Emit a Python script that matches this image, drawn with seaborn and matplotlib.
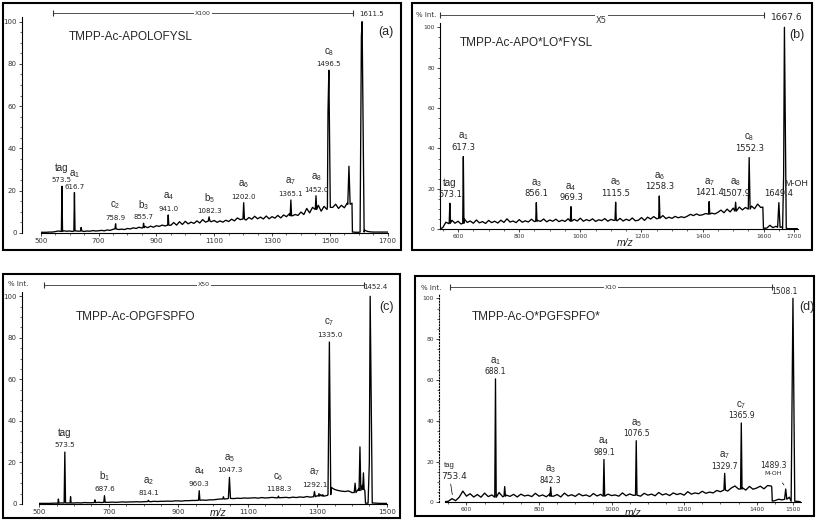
"""Cuatro espectros MS/MS (MALDI) de peptidos derivatizados con TMPP.

Cada panel se dibuja a partir de un ruido de fondo leido a paso fijo, una
lista de picos (posicion, altura, base, semiancho) y unos pocos puntos extra
(hombros y cortes del rango ampliado).
"""

import matplotlib

matplotlib.use("Agg")
import matplotlib.pyplot as plt
import numpy as np
import pandas as pd
import seaborn as sns
from matplotlib.patches import Rectangle
from matplotlib.ticker import MultipleLocator

sns.set_style("ticks")
plt.rcParams["font.family"] = ["DejaVu Sans"]
plt.rcParams["mathtext.fontset"] = "custom"
plt.rcParams["mathtext.rm"] = "Liberation Sans"
plt.rcParams["mathtext.it"] = "Liberation Sans:italic"
plt.rcParams["mathtext.default"] = "rm"

ANCHO_PX, ALTO_PX, DPI = 817, 526, 100
LETRA = "Liberation Sans"

# ---------------------------------------------------------------- panel (a)
INICIO_A = 500
ruido_a = [
    0.2, 0.2, 0.2, 0.3, 0.3, 0.5, 0.8, 0.6, 0.9, 0.7,
    0.8, 0.6, 0.9, 0.7, 1.0, 0.6, 0.8, 0.7, 1.0, 0.8,
    0.9, 1.1, 0.9, 1.3, 1.1, 1.6, 2.2, 1.5, 1.7, 1.5,
    2.0, 1.8, 2.3, 2.0, 2.6, 2.2, 3.0, 2.4, 3.1, 2.6,
    3.3, 3.0, 3.6, 3.2, 4.5, 3.5, 4.8, 3.6, 5.2, 3.9,
    5.4, 4.2, 5.0, 4.4, 5.6, 4.6, 6.2, 5.0, 6.5, 5.2,
    5.8, 4.9, 5.6, 5.0, 5.9, 5.3, 6.4, 5.6, 7.0, 6.2,
    7.5, 6.0, 7.2, 6.4, 7.8, 6.6, 7.4, 6.5, 7.9, 6.6,
    7.6, 6.9, 8.2, 7.0, 8.4, 7.6, 9.0, 8.0, 8.6, 8.2,
    9.8, 8.6, 11.5, 9.4, 12.0, 10.5, 13.0, 10.2, 12.5, 11.0,
    14.5, 12.0, 13.5, 11.5, 13.0, 11.8, 14.0, 15.0, 0.3, 0.2,
    0.2, 1.0, 1.2, 0.6, 0.4, 0.3, 0.3, 0.3, 0.3, 0.3,
    0.3,
]
extra_mz_a = [1493.5, 1576.5, 1578.0, 1609.0]
extra_int_a = [57.0, 14.0, 0.3, 93.0]
pico_mz_a = [573.5, 616.7, 640.0, 758.9, 855.7, 941.0, 1082.3, 1202.0,
             1365.1, 1452.0, 1496.5, 1566.0, 1611.5]
pico_h_a = [22.0, 19.0, 2.5, 4.2, 4.5, 8.4, 7.5, 14.2, 15.5, 17.5, 77.0, 31.5, 100.0]
pico_base_a = [0.6, 0.8, 0.8, 1.8, 2.4, 3.6, 5.5, 6.5, 8.0, 11.0, 12.0, 13.5, 0.3]
pico_ancho_a = [2, 2, 2, 2, 2, 2, 3, 2.5, 2.5, 2.5, 5, 4, 7]
ion_a = ["tag", "a1", "", "c2", "b3", "a4", "b5", "a6", "a7", "a8", "c8", "", ""]
valor_a = [573.5, 616.7, None, 758.9, 855.7, 941.0, 1082.3, 1202.0, 1365.1,
           1452.0, 1496.5, None, None]

# ---------------------------------------------------------------- panel (b)
INICIO_B = 540
ruido_b = [
    0.2, 0.8, 3.5, 2.8, 4.5, 3.0, 4.0, 2.6, 5.2, 3.4,
    4.1, 3.0, 4.6, 3.2, 3.8, 2.9, 4.4, 3.3, 4.0, 3.1,
    4.5, 3.4, 5.2, 3.6, 4.1, 3.3, 4.8, 3.5, 4.2, 3.6,
    5.0, 3.8, 4.4, 3.9, 5.1, 3.7, 4.6, 4.0, 5.0, 3.8,
    4.5, 3.9, 5.2, 3.8, 4.9, 4.1, 5.5, 4.0, 4.8, 4.2,
    5.2, 3.9, 4.7, 4.3, 5.3, 4.0, 4.9, 4.4, 4.2, 5.4,
    4.1, 5.0, 4.3, 5.6, 4.2, 4.5, 5.8, 4.4, 6.0, 5.1,
    6.3, 5.2, 5.6, 6.8, 5.3, 6.0, 5.4, 6.4, 5.7, 6.2,
    5.8, 6.5, 7.4, 6.8, 7.6, 6.9, 7.2, 7.8, 7.1, 8.0,
    7.6, 8.4, 9.5, 8.2, 10.0, 8.6, 10.5, 9.0, 11.0, 9.6,
    10.8, 9.8, 11.5, 10.2, 12.5, 10.8, 0.5, 0.6, 2.0, 0.8,
    1.5, 3.0, 1.2, 0.5, 0.3, 0.3, 0.3, 0.3,
]
extra_mz_b = [1597.0, 1599.0, 1665.0]
extra_int_b = [11.0, 0.5, 27.0]
pico_mz_b = [573.1, 617.3, 856.1, 969.3, 1115.5, 1258.3, 1421.4, 1507.9,
             1552.3, 1649.4, 1667.6]
pico_h_b = [12.9, 36.0, 13.2, 11.2, 13.4, 16.5, 13.7, 13.4, 35.5, 13.2, 100.0]
pico_base_b = [3.0, 3.0, 4.0, 4.0, 4.5, 5.5, 7.5, 9.0, 10.0, 1.0, 0.5]
pico_ancho_b = [2, 2, 2, 2, 2, 2, 2, 2.5, 3, 4, 6]
ion_b = ["tag", "a1", "a3", "a4", "a5", "a6", "a7", "a8", "c8", "", ""]
valor_b = [573.1, 617.3, 856.1, 969.3, 1115.5, 1258.3, 1421.4, 1507.9,
           1552.3, 1649.4, None]

# ---------------------------------------------------------------- panel (c)
INICIO_C = 500
ruido_c = [
    0.3, 0.3, 0.3, 0.3, 0.4, 0.4, 0.5, 0.5, 0.5, 0.6,
    0.5, 0.6, 0.5, 0.7, 0.6, 0.6, 0.7, 0.8, 0.7, 0.8,
    0.8, 0.9, 0.8, 0.9, 1.0, 0.9, 1.0, 1.0, 1.1, 1.0,
    1.1, 1.2, 1.1, 1.3, 1.2, 1.3, 1.3, 1.4, 1.3, 1.5,
    1.5, 1.4, 1.6, 1.6, 1.7, 1.7, 1.8, 1.9, 1.8, 2.0,
    2.0, 2.2, 2.4, 2.6, 2.5, 2.8, 2.6, 2.8, 2.7, 2.9,
    2.8, 2.9, 3.0, 2.8, 3.1, 2.9, 3.0, 3.2, 3.0, 3.3,
    3.1, 3.2, 3.0, 3.3, 3.1, 3.4, 3.2, 3.6, 3.3, 4.2,
    4.0, 4.5, 3.8, 4.2, 8.0, 7.0, 6.5, 6.2, 6.0, 6.3,
    5.5, 6.0, 7.5, 9.0, 0.4, 0.4, 0.5, 0.4, 0.3, 0.3,
    0.3,
]
extra_mz_c = [1437.0, 1439.0, 1450.0]
extra_int_c = [6.5, 0.4, 20.0]
pico_mz_c = [555.0, 573.5, 590.0, 660.0, 687.6, 814.1, 960.3, 1030.0, 1047.3,
             1188.3, 1292.1, 1305.0, 1316.0, 1335.0, 1409.0, 1423.0, 1433.0, 1452.4]
pico_h_c = [2.4, 25.0, 3.5, 2.0, 4.0, 1.8, 6.4, 3.5, 12.8, 3.8, 6.0, 5.0, 4.5,
            78.0, 10.0, 27.5, 15.0, 100.0]
pico_base_c = [0.4, 0.5, 0.5, 0.7, 0.8, 1.2, 1.8, 2.4, 2.7, 3.0, 3.5, 3.8, 3.8,
               4.5, 5.5, 6.5, 7.0, 0.4]
pico_ancho_c = [1.5, 2, 1.5, 1.5, 2, 2, 2, 2, 3, 2, 2.5, 2, 2, 4, 2.5, 2.5, 2, 6]
ion_c = ["", "tag", "", "", "b1", "a2", "a4", "", "a5", "c6", "a7", "", "",
         "c7", "", "", "", ""]
valor_c = [None, 573.5, None, None, 687.6, 814.1, 960.3, None, 1047.3, 1188.3,
           1292.1, None, None, 1335.0, None, None, None, None]

# ---------------------------------------------------------------- panel (d)
INICIO_D = 540
ruido_d = [
    0.3, 0.5, 1.8, 0.8, 2.5, 5.5, 3.0, 4.2, 2.6, 3.8,
    2.5, 4.5, 2.8, 3.6, 2.4, 4.8, 2.7, 3.5, 2.9, 3.9,
    2.6, 4.0, 3.1, 3.5, 2.8, 4.4, 3.0, 3.6, 2.7, 4.1,
    3.0, 3.8, 2.6, 4.5, 3.1, 3.7, 2.9, 4.2, 3.2, 3.6,
    2.8, 4.3, 3.1, 3.9, 2.7, 4.0, 3.3, 3.6, 3.0, 4.6,
    3.2, 4.1, 3.4, 5.0, 3.0, 4.4, 3.5, 4.0, 3.2, 4.8,
    3.6, 4.2, 3.3, 4.6, 3.8, 4.3, 3.5, 5.2, 4.0, 4.6,
    4.2, 5.4, 4.4, 5.0, 4.6, 5.8, 5.2, 6.0, 5.5, 7.0,
    8.0, 6.5, 7.2, 6.0, 7.8, 6.4, 7.0, 7.9, 6.6, 8.2,
    8.0, 0.8, 1.5, 1.2, 2.0, 2.5, 2.0, 0.5, 0.3,
]
extra_mz_d = [1441.5, 1443.0]
extra_int_d = [7.5, 0.6]
pico_mz_d = [680.0, 705.4, 832.2, 979.0, 1068.0, 1311.8, 1357.6, 1480.0, 1500.0]
pico_h_d = [60.5, 7.7, 7.4, 21.0, 30.2, 14.2, 38.9, 6.5, 100.0]
pico_base_d = [2.5, 3.0, 3.0, 3.0, 3.5, 6.0, 6.5, 1.5, 0.5]
pico_ancho_d = [2, 2, 2, 2, 2, 2, 2, 3, 5]
ion_d = ["a1", "", "a3", "a4", "a5", "a7", "c7", "", ""]
valor_d = [688.1, None, 842.3, 989.1, 1076.5, 1329.7, 1365.9, None, None]


def armar_espectro(inicio, ruido, extra_mz, extra_int, p_mz, p_h, p_base, p_ancho):
    """Une ruido de fondo, picos triangulares estrechos y puntos extra."""
    ruido = np.asarray(ruido, dtype=float)
    mz = inicio + 10.0 * np.arange(len(ruido))
    libre = np.ones(len(mz), dtype=bool)
    for m, w in zip(p_mz, p_ancho):
        libre &= np.abs(mz - m) > w
    xs, ys = [mz[libre]], [ruido[libre]]
    for m, h, b, w in zip(p_mz, p_h, p_base, p_ancho):
        xs.append([m - w, m, m + w])
        ys.append([b, h, b])
    xs.append(extra_mz)
    ys.append(extra_int)
    x = np.concatenate([np.asarray(v, float) for v in xs])
    y = np.concatenate([np.asarray(v, float) for v in ys])
    orden = np.argsort(x, kind="stable")
    return pd.DataFrame({"mz": x[orden], "intensidad": y[orden]})


def texto_ion(nombre):
    if nombre in ("tag", ""):
        return nombre
    return rf"$\mathrm{{{nombre[0]}}}_{{{nombre[1:]}}}$"


def etiquetar(ax, p_mz, p_h, iones, valores, dy_num, dy_ion, fs_num, fs_ion):
    for m, h, ion, v in zip(p_mz, p_h, iones, valores):
        if v is not None:
            ax.annotate(f"{v:.1f}", (m, h), xytext=(0, dy_num), textcoords="offset points",
                        ha="center", va="center", fontsize=fs_num, color="#222222")
        if ion:
            ax.annotate(texto_ion(ion), (m, h), xytext=(0, dy_ion), textcoords="offset points",
                        ha="center", va="center", fontsize=fs_ion, family=LETRA)


def barra_escala(ax, x0, x1, y, texto, fs, y_texto=None):
    ax.plot([x0, x1], [y, y], color="#333333", lw=0.6, marker="|", ms=4,
            mew=0.8, clip_on=False)
    ax.text((x0 + x1) / 2, y if y_texto is None else y_texto, texto, ha="center",
            va="center", fontsize=fs, color="#333333",
            bbox=dict(fc="white", ec="none", pad=0.6))


def a_fig(x_px, y_px):
    return x_px / ANCHO_PX, 1 - y_px / ALTO_PX


fig = plt.figure(figsize=(ANCHO_PX / DPI, ALTO_PX / DPI), dpi=DPI)

# marcos de cada panel (px: izquierda, arriba, derecha, abajo)
for x0, y0, x1, y1 in [(3, 3, 401, 250), (412, 3, 812, 250),
                       (3, 274, 400, 518), (415, 276, 814, 516)]:
    fig.patches.append(Rectangle(a_fig(x0, y1), (x1 - x0) / ANCHO_PX,
                                 (y1 - y0) / ALTO_PX, transform=fig.transFigure,
                                 fill=False, ec="black", lw=1.5))

paneles = [
    dict(inicio=INICIO_A, ruido=ruido_a, emz=extra_mz_a, eint=extra_int_a,
         mz=pico_mz_a, h=pico_h_a, base=pico_base_a, ancho=pico_ancho_a,
         ion=ion_a, valor=valor_a, xlim=(500, 1700),
         xticks=[500, 700, 900, 1100, 1300, 1500, 1700], fs_ticks=5,
         px=(40.7, 387.7, 232.7, 21.7), despl=13.7, dy=(4.3, 13.3), fs=(5, 7)),
    dict(inicio=INICIO_B, ruido=ruido_b, emz=extra_mz_b, eint=extra_int_b,
         mz=pico_mz_b, h=pico_h_b, base=pico_base_b, ancho=pico_ancho_b,
         ion=ion_b, valor=valor_b, xlim=(540, 1712),
         xticks=[600, 800, 1000, 1200, 1400, 1600, 1700], fs_ticks=4.3,
         px=(439.7, 798.0, 229.3, 27.3), despl=0, dy=(6.5, 14.4), fs=(6, 7)),
    dict(inicio=INICIO_C, ruido=ruido_c, emz=extra_mz_c, eint=extra_int_c,
         mz=pico_mz_c, h=pico_h_c, base=pico_base_c, ancho=pico_ancho_c,
         ion=ion_c, valor=valor_c, xlim=(500, 1500),
         xticks=[500, 700, 900, 1100, 1300, 1500], fs_ticks=5,
         px=(39.3, 386.7, 504.0, 296.3), despl=12.7, dy=(5.0, 14.0), fs=(5.2, 7)),
    dict(inicio=INICIO_D, ruido=ruido_d, emz=extra_mz_d, eint=extra_int_d,
         mz=pico_mz_d, h=pico_h_d, base=pico_base_d, ancho=pico_ancho_d,
         ion=ion_d, valor=valor_d, xlim=(540, 1523),
         xticks=[600, 800, 1000, 1200, 1400, 1500], fs_ticks=4.3,
         px=(444.7, 801.3, 502.3, 298.3), despl=4.3, dy=(5.0, 13.0), fs=(5.5, 7)),
]

ejes = []
for p in paneles:
    x0, x1, y_cero, y_cien = p["px"]
    y_tope = y_cero - 1.02 * (y_cero - y_cien)
    izq, abajo = a_fig(x0, y_cero)
    ax = fig.add_axes([izq, abajo, (x1 - x0) / ANCHO_PX, (y_cero - y_tope) / ALTO_PX])
    df = armar_espectro(p["inicio"], p["ruido"], p["emz"], p["eint"],
                        p["mz"], p["h"], p["base"], p["ancho"])
    sns.lineplot(data=df, x="mz", y="intensidad", ax=ax, color="black", lw=0.95,
                 estimator=None, sort=False)
    ax.set_xlim(*p["xlim"])
    ax.set_ylim(0, 102)
    ax.set_xlabel("")
    ax.set_ylabel("")
    ax.set_xticks(p["xticks"])
    ax.set_yticks([0, 20, 40, 60, 80, 100])
    ax.xaxis.set_minor_locator(MultipleLocator(50))
    ax.yaxis.set_minor_locator(MultipleLocator(5))
    ax.tick_params(which="major", length=2, width=0.6, labelsize=p["fs_ticks"],
                   labelcolor="#333333", pad=1.5)
    ax.tick_params(which="minor", length=1.2, width=0.5)
    ax.set_facecolor("none")
    sns.despine(ax=ax)
    for lado in ("left", "bottom"):
        ax.spines[lado].set_color("black")
        ax.spines[lado].set_linewidth(0.8)
    if p["despl"]:
        ax.spines["left"].set_position(("outward", p["despl"]))
    etiquetar(ax, p["mz"], p["h"], p["ion"], p["valor"], *p["dy"], *p["fs"])
    ejes.append(ax)

ax_a, ax_b, ax_c, ax_d = ejes
ax_d.spines["left"].set_linestyle(":")

# barras de ampliacion
barra_escala(ax_a, 543, 1581, 104.0, "X100", 4.5)
barra_escala(ax_b, 540, 1600, 106.0, "X5", 6, y_texto=103.6)
barra_escala(ax_c, 513, 1436, 105.6, "X50", 4.5)
barra_escala(ax_d, 554, 1443, 105.4, "X10", 4.5)

# pico base de cada espectro
ax_a.text(1645, 103.6, "1611.5", ha="center", va="center", fontsize=5)
ax_b.text(1674, 105.0, "1667.6", ha="center", va="center", fontsize=6.5)
ax_c.text(1468, 104.3, "1452.4", ha="center", va="center", fontsize=5)
ax_d.text(1477, 103.4, "1508.1", ha="center", va="center", fontsize=5.5)

# anotaciones especiales
ax_b.text(1706, 22.8, "M-OH", ha="center", va="center", fontsize=6.5, family=LETRA)
ax_d.text(553, 18.0, "tag", ha="center", va="center", fontsize=5.5, family=LETRA)
ax_d.text(567, 12.8, "753.4", ha="center", va="center", fontsize=6.5)
ax_d.plot([556.5, 561], [9.0, 3.7], color="black", lw=0.5)
ax_d.text(1445, 18.0, "1489.3", ha="center", va="center", fontsize=5.5)
ax_d.text(1445, 13.9, "M-OH", ha="center", va="center", fontsize=4.5)
ax_d.annotate("", xy=(1480, 7.4), xytext=(1466, 10.6),
              arrowprops=dict(arrowstyle="-", lw=0.5, color="black"))

# titulos, letras de panel y ejes
for x, y, t in [(68.3, 37.0, "TMPP-Ac-APOLOFYSL"), (459.7, 43.3, "TMPP-Ac-APO*LO*FYSL"),
                (75.3, 317.3, "TMPP-Ac-OPGFSPFO"), (471.3, 317.3, "TMPP-Ac-O*PGFSPFO*")]:
    fig.text(*a_fig(x, y), t, ha="left", va="center", fontsize=8.5, family=LETRA)
for x, y, t in [(386.0, 31.7, "(a)"), (797.3, 35.0, "(b)"),
                (386.7, 306.7, "(c)"), (807.0, 307.3, "(d)")]:
    fig.text(*a_fig(x, y), t, ha="center", va="center", fontsize=9, family=LETRA)
for x, y in [(426.3, 15.0), (18.3, 284.0), (430.7, 288.0)]:
    fig.text(*a_fig(x, y), "% Int.", ha="center", va="center", fontsize=5, color="#333333")
for x, y in [(625.0, 243.0), (218.0, 513.0), (633.0, 513.0)]:
    fig.text(*a_fig(x, y), "m/z", ha="center", va="center", fontsize=7.5,
             family=LETRA, style="italic")

fig.savefig("out.png", dpi=DPI)
